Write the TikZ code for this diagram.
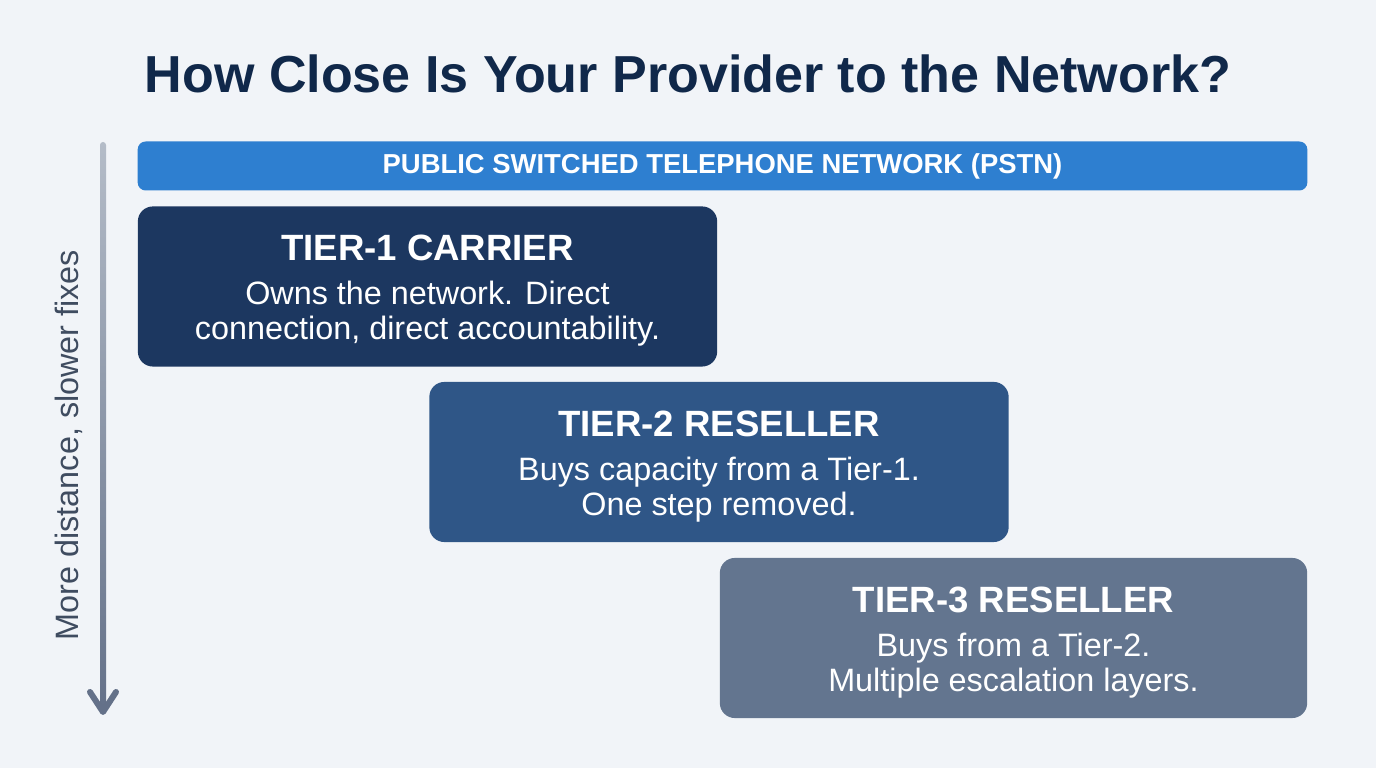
\documentclass[tikz,border=0pt]{standalone}
\usepackage{fontspec}
\setmainfont{Liberation Sans}
\usetikzlibrary{calc}

\definecolor{pagebg}{HTML}{F1F4F8}
\definecolor{titleblue}{HTML}{10284A}
\definecolor{pstnblue}{HTML}{2E7FD0}
\definecolor{tierone}{HTML}{1C3760}
\definecolor{tiertwo}{HTML}{2F5687}
\definecolor{tierthree}{HTML}{63758F}
\definecolor{axistop}{HTML}{B4BCC8}
\definecolor{axisbot}{HTML}{647189}
\definecolor{axislabel}{HTML}{3F4C60}

\tikzset{
  tierbox/.style={rounded corners=0.15cm, minimum width=5.79cm,
    minimum height=1.6cm, inner sep=0pt},
  tiertitle/.style={anchor=base, text=white,
    font=\fontsize{10.4}{12}\selectfont\bfseries},
  tierbody/.style={anchor=base, text=white, align=center,
    font=\fontsize{9.2}{10}\selectfont}
}

\begin{document}
\begin{tikzpicture}[x=0.01cm,y=-0.01cm]
  % page
  \fill[pagebg] (0,0) rectangle (1376,768);
  \useasboundingbox (0,0) rectangle (1376,768);

  % title
  \node[anchor=base, text=titleblue,
        font=\fontsize{14.8}{18}\selectfont\bfseries] (title) at (688,93)
        {How Close Is Your Provider to the Network?};

  % network bar
  \node[rounded corners=0.08cm, fill=pstnblue, minimum width=11.69cm,
        minimum height=0.48cm, text=white,
        font=\fontsize{7.8}{10}\selectfont\bfseries] (pstn) at (722.5,166)
        {PUBLIC SWITCHED TELEPHONE NETWORK (PSTN)};

  % tiers
  \node[tierbox, fill=tierone] (t1) at (427.5,286.5) {};
  \node[tiertitle] (t1title) at ($(t1.north)+(0,55)$) {TIER-1 CARRIER};
  \node[tierbody] (t1body) at ($(t1.north)+(0,134)$)
        {Owns the network. Direct\\connection, direct accountability.};

  \node[tierbox, fill=tiertwo] (t2) at (719,462) {};
  \node[tiertitle] (t2title) at ($(t2.north)+(0,55)$) {TIER-2 RESELLER};
  \node[tierbody] (t2body) at ($(t2.north)+(0,134)$)
        {Buys capacity from a Tier-1.\\One step removed.};

  \node[tierbox, fill=tierthree, minimum width=5.87cm] (t3) at (1013.5,638) {};
  \node[tiertitle] (t3title) at ($(t3.north)+(0,55)$) {TIER-3 RESELLER};
  \node[tierbody] (t3body) at ($(t3.north)+(0,134)$)
        {Buys from a Tier-2.\\Multiple escalation layers.};

  % distance axis
  \coordinate (axtop) at (103,142);
  \coordinate (axbot) at (103,712);
  \shade[top color=axistop, bottom color=axisbot, rounded corners=0.03cm]
        ($(axtop)+(-3,0)$) rectangle ($(axbot)+(3,-2)$);
  \draw[axisbot, line width=0.06cm, line cap=round, line join=round]
        ($(axbot)+(-13,-20)$) -- (axbot) -- ($(axbot)+(13,-20)$);
  \node[rotate=90, text=axislabel, font=\fontsize{9.2}{10}\selectfont] (axlabel)
        at (69,445) {More distance, slower fixes};
\end{tikzpicture}
\end{document}
